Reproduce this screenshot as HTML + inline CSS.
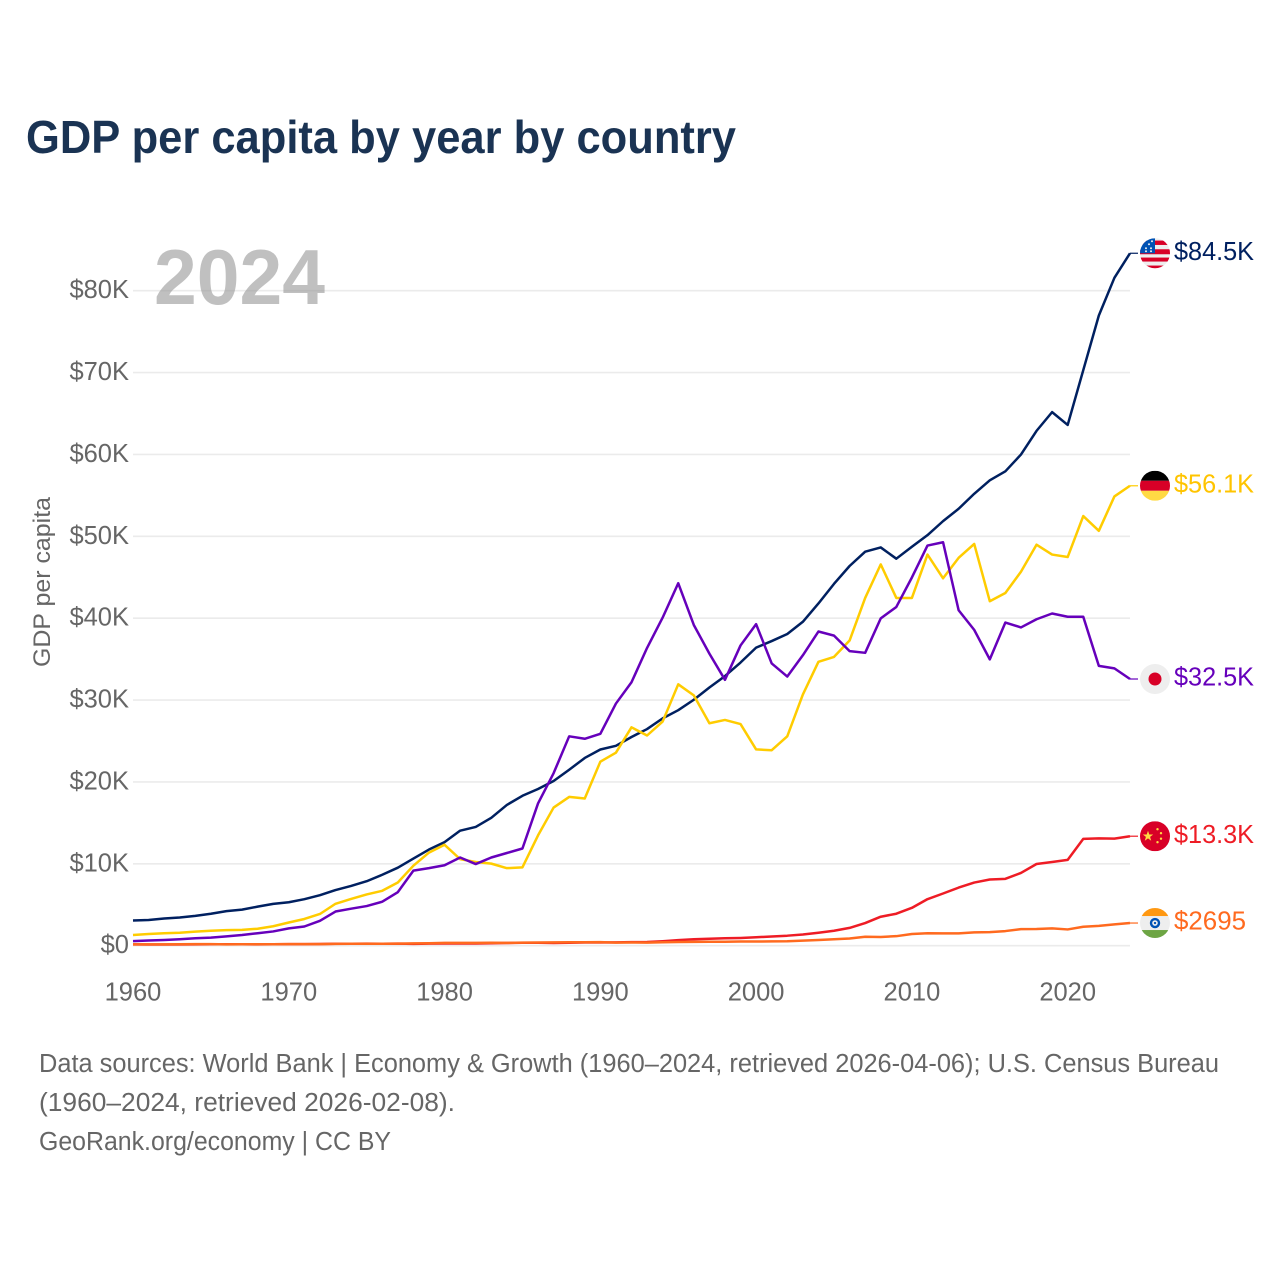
<!DOCTYPE html>
<html lang="en">
<head>
<meta charset="utf-8">
<title>GDP per capita by year by country</title>
<style>
html,body{margin:0;padding:0;background:#fff;}
svg{display:block;font-family:"Liberation Sans",sans-serif;}
</style>
</head>
<body>
<svg id="chart" width="1280" height="1280" viewBox="0 0 1280 1280" xmlns="http://www.w3.org/2000/svg">
  <defs>
    <clipPath id="flag-clip"><circle cx="0" cy="0" r="15"></circle></clipPath>
  </defs>
  <rect width="1280" height="1280" fill="#ffffff"></rect>
  <text x="26" y="153" font-size="46.5" font-weight="700" fill="#1a3353" textLength="710" lengthAdjust="spacingAndGlyphs">GDP per capita by year by country</text>
  <g id="grid"></g>
  <g id="yticks"></g>
  <g id="xticks"></g>
  <text transform="translate(50,582) rotate(-90)" text-anchor="middle" font-size="24.5" fill="#666666" textLength="170" lengthAdjust="spacingAndGlyphs">GDP per capita</text>
  <text x="154" y="304" font-size="78" font-weight="700" fill="#999999" fill-opacity="0.62" textLength="171" lengthAdjust="spacingAndGlyphs">2024</text>
  <g id="series"></g>
  <g id="flag-usa" clip-path="url(#flag-clip)">
    <rect x="-15" y="-15" width="30" height="30" fill="#eeeeee"></rect>
    <rect x="-15" y="-12.7" width="30" height="4.4" fill="#d80027"></rect>
    <rect x="-15" y="-4" width="30" height="5" fill="#d80027"></rect>
    <rect x="-15" y="4.3" width="30" height="4" fill="#d80027"></rect>
    <rect x="-15" y="12.3" width="30" height="3.4" fill="#d80027"></rect>
    <rect x="-15" y="-15" width="15" height="15" fill="#0052b4"></rect>
    <circle cx="-9" cy="-5" r="1" fill="#eeeeee"></circle>
    <circle cx="-4" cy="-5" r="1" fill="#eeeeee"></circle>
    <circle cx="-6" cy="-9" r="1" fill="#eeeeee"></circle>
    <circle cx="-3" cy="-12" r="1" fill="#eeeeee"></circle>
    <circle cx="-9" cy="-2" r="1" fill="#eeeeee"></circle>
    <circle cx="-4" cy="-2" r="1" fill="#eeeeee"></circle>
  </g>
  <g id="flag-deu" clip-path="url(#flag-clip)">
    <rect x="-15" y="-15" width="30" height="10" fill="#000000"></rect>
    <rect x="-15" y="-5" width="30" height="10" fill="#d80027"></rect>
    <rect x="-15" y="5" width="30" height="10" fill="#ffda44"></rect>
  </g>
  <g id="flag-jpn" clip-path="url(#flag-clip)">
    <rect x="-15" y="-15" width="30" height="30" fill="#eeeeee"></rect>
    <circle cx="0" cy="0" r="6.5" fill="#d80027"></circle>
  </g>
  <g id="flag-chn" clip-path="url(#flag-clip)">
    <rect x="-15" y="-15" width="30" height="30" fill="#d80027"></rect>
    <polygon points="-7,-5.5 -5.7,-1.7 -1.8,-1.7 -4.9,0.7 -3.8,4.5 -7,2.2 -10.2,4.5 -9.1,0.7 -12.2,-1.7 -8.3,-1.7" fill="#ffda44"></polygon>
    <circle cx="2.5" cy="-7" r="1.2" fill="#ffda44"></circle>
    <circle cx="6" cy="-3" r="1.2" fill="#ffda44"></circle>
    <circle cx="6" cy="2.5" r="1.2" fill="#ffda44"></circle>
    <circle cx="2.5" cy="6" r="1.2" fill="#ffda44"></circle>
  </g>
  <g id="flag-ind" clip-path="url(#flag-clip)">
    <rect x="-15" y="-15" width="30" height="30" fill="#eeeeee"></rect>
    <rect x="-15" y="-15" width="30" height="8" fill="#ff9811"></rect>
    <rect x="-15" y="7" width="30" height="8" fill="#6da544"></rect>
    <circle cx="0" cy="0" r="4" fill="none" stroke="#0052b4" stroke-width="2.4"></circle>
    <circle cx="0" cy="0" r="1.2" fill="#0052b4"></circle>
  </g>
  <g id="end-labels"></g>
  <g font-size="25.5" fill="#666666">
    <text x="39" y="1072" textLength="1180" lengthAdjust="spacingAndGlyphs">Data sources: World Bank | Economy &amp; Growth (1960–2024, retrieved 2026-04-06); U.S. Census Bureau</text>
    <text x="39" y="1111" textLength="416" lengthAdjust="spacingAndGlyphs">(1960–2024, retrieved 2026-02-08).</text>
    <text x="39" y="1150" textLength="352" lengthAdjust="spacingAndGlyphs">GeoRank.org/economy | CC BY</text>
  </g>
</svg>
<script>
const startYear = 1960;
const xTickYears = [1960, 1970, 1980, 1990, 2000, 2010, 2020];
const yTickValues = [0, 10000, 20000, 30000, 40000, 50000, 60000, 70000, 80000];
const yTickLabels = ['$0', '$10K', '$20K', '$30K', '$40K', '$50K', '$60K', '$70K', '$80K'];

const usaValues = [3007,3067,3244,3375,3574,3828,4146,4336,4696,5032,5234,5609,6094,6726,7226,7801,8592,9453,10565,11674,12575,13976,14434,15544,17121,18237,19071,20039,21417,22857,23889,24342,25419,26387,27695,28691,29968,31459,32854,34513,36330,37134,37998,39490,41725,44123,46302,48050,48570,47195,48651,50066,51784,53291,55124,56763,57867,59915,62805,65095,63528,70219,76900,81500,84500];
const germanyValues = [1240,1350,1440,1510,1640,1760,1830,1860,2000,2300,2761,3190,3800,5049,5638,6190,6635,7646,9700,11300,12250,10500,10150,9950,9400,9500,13400,16800,18100,17900,22400,23500,26600,25600,27300,31850,30500,27100,27500,27000,23900,23800,25500,30600,34600,35200,37200,42400,46500,42400,42400,47700,44800,47300,49000,42000,43000,45600,48900,47700,47400,52400,50600,54800,56100];
const japanValues = [479,560,630,720,840,920,1060,1230,1450,1670,2040,2270,2970,4100,4450,4770,5300,6470,9100,9400,9750,10700,9900,10700,11250,11800,17300,21000,25500,25200,25800,29500,32100,36300,40000,44200,39100,35600,32400,36600,39200,34400,32800,35400,38300,37800,35900,35700,39900,41300,44900,48800,49200,40900,38500,34900,39400,38800,39800,40500,40100,40100,34100,33800,32500];
const chinaValues = [90,75,70,74,85,98,104,96,91,100,113,119,132,157,160,178,165,185,156,183,195,197,203,225,251,294,282,252,284,311,318,333,366,377,473,610,709,782,829,873,959,1053,1149,1289,1509,1753,2099,2694,3468,3832,4550,5614,6301,7020,7636,8016,8094,8817,9905,10144,10409,12970,13030,13000,13300];
const indiaValues = [83,86,90,101,116,120,90,96,100,107,112,119,122,144,163,158,161,186,206,224,267,270,274,291,276,296,310,340,354,346,368,303,317,301,346,374,400,415,413,441,442,449,470,543,624,710,800,1018,991,1090,1350,1450,1434,1438,1560,1590,1714,1957,1974,2050,1913,2239,2347,2530,2695];

const seriesNames = ['usa', 'germany', 'japan', 'china', 'india'];
const seriesValues = [usaValues, germanyValues, japanValues, chinaValues, indiaValues];
const seriesColors = ['#002060', '#ffcc00', '#6600bb', '#ee1c25', '#ff6a1f'];
const endLabels = ['$84.5K', '$56.1K', '$32.5K', '$13.3K', '$2695'];
const flagIds = ['flag-usa', 'flag-deu', 'flag-jpn', 'flag-chn', 'flag-ind'];

const NS = 'http://www.w3.org/2000/svg';
function xScale(year) { return 133 + (year - startYear) * 15.578; }
function yScale(v) { return 945.7 - v * 0.0081875; }
function lineY(v) { return yScale(v) - 0.6; }
function mk(tag, parent, attrs, text) {
  const el = document.createElementNS(NS, tag);
  for (const k in attrs) el.setAttribute(k, attrs[k]);
  if (text !== undefined) el.textContent = text;
  parent.appendChild(el);
  return el;
}

const gridG = document.getElementById('grid');
const yG = document.getElementById('yticks');
const xG = document.getElementById('xticks');
const seriesG = document.getElementById('series');
const labelG = document.getElementById('end-labels');

yTickValues.forEach(function (v, i) {
  const line = mk('line', gridG, { x1: 133, x2: 1130, y1: yScale(v), y2: yScale(v), stroke: '#ebebeb', 'stroke-width': 1.6 });
  
  
  const t = mk('text', yG, { x: 129, y: yScale(v) + 7.5, 'text-anchor': 'end', 'font-size': 25.5, fill: '#666666' }, yTickLabels[i]);
  
  
});

xTickYears.forEach(function (yr) {
  const t = mk('text', xG, { x: xScale(yr), y: 1000.5, 'text-anchor': 'middle', 'font-size': 25.5, fill: '#666666' }, String(yr));
  
  
});

seriesValues.forEach(function (vals, i) {
  const pts = vals.map(function (v, k) { return xScale(startYear + k).toFixed(2) + ',' + lineY(v).toFixed(2); }).join(' ');
  const line = mk('polyline', seriesG, { points: pts, fill: 'none', stroke: seriesColors[i], 'stroke-width': 2.5, 'stroke-linejoin': 'round' });
  
  
  const last = vals[vals.length - 1];
  const lastY = lineY(last);
  const xEnd = xScale(startYear + vals.length - 1);
  const leader = mk('line', seriesG, { x1: xEnd, x2: 1138, y1: lastY, y2: lastY, stroke: seriesColors[i], 'stroke-width': 1.2 });
  
  
  const flag = document.getElementById(flagIds[i]);
  const wrap = mk('g', flag.parentNode, { transform: 'translate(1155,' + lastY + ')' });
  
  
  flag.parentNode.insertBefore(wrap, flag);
  wrap.appendChild(flag);
  const lbl = mk('text', labelG, { x: 1174, y: lastY + 6.6, 'font-size': 26, fill: seriesColors[i] === '#ffcc00' ? '#ffc400' : seriesColors[i], textLength: endLabels[i].length === 5 ? 72 : 80, lengthAdjust: 'spacingAndGlyphs' }, endLabels[i]);
  
  
});
</script>
</body>
</html>
